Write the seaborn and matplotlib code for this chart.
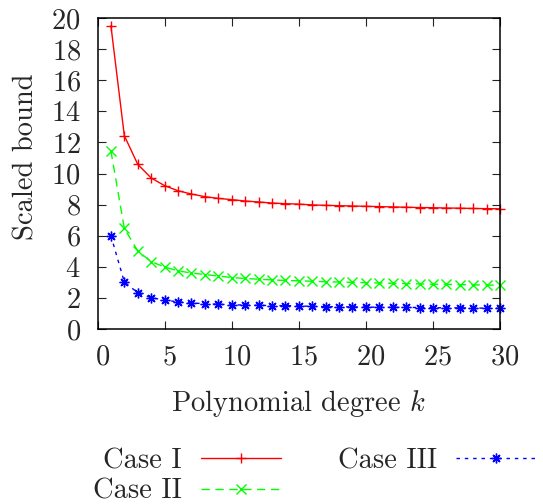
import matplotlib
matplotlib.use("Agg")
import matplotlib.pyplot as plt
from matplotlib.lines import Line2D
from matplotlib.transforms import ScaledTranslation
import pandas as pd
import seaborn as sns

# Polynomial degree and the scaled bound for each case
degree = list(range(1, 31))
case_1 = [19.50, 12.43, 10.59, 9.71, 9.22, 8.89, 8.68, 8.51, 8.40, 8.32,
          8.23, 8.17, 8.10, 8.06, 8.03, 7.98, 7.95, 7.93, 7.91, 7.89,
          7.87, 7.85, 7.83, 7.81, 7.80, 7.78, 7.77, 7.75, 7.74, 7.73]
case_2 = [11.45, 6.47, 5.02, 4.33, 3.99, 3.74, 3.60, 3.50, 3.41, 3.31,
          3.25, 3.20, 3.16, 3.12, 3.10, 3.07, 3.04, 3.02, 3.00, 2.98,
          2.96, 2.94, 2.92, 2.90, 2.88, 2.87, 2.85, 2.84, 2.83, 2.81]
case_3 = [6.00, 3.02, 2.33, 2.02, 1.85, 1.75, 1.67, 1.63, 1.59, 1.56,
          1.54, 1.52, 1.51, 1.50, 1.49, 1.45, 1.44, 1.43, 1.42, 1.41,
          1.40, 1.39, 1.39, 1.38, 1.37, 1.36, 1.36, 1.35, 1.34, 1.33]
case_names = ["Case I", "Case II", "Case III"]
x_ticks = list(range(0, 31, 5))
y_ticks = list(range(0, 21, 2))

sns.set_style("ticks")
plt.rcParams.update({
    "font.family": "serif",
    "font.serif": ["cmr10"],
    "mathtext.fontset": "cm",
    "axes.formatter.use_mathtext": True,
    "axes.unicode_minus": False,
})

FS = 20.5
colors = {"Case I": "#ff0000", "Case II": "#00ff00", "Case III": "#0000ff"}
markers = {"Case I": "+", "Case II": "x", "Case III": (8, 2, 0)}
dashes = {"Case I": "", "Case II": (6, 4), "Case III": (2.5, 3.5)}
MS = 7

df = pd.DataFrame({
    "k": degree * 3,
    "bound": case_1 + case_2 + case_3,
    "case": [n for n in case_names for _ in degree],
})

fig = plt.figure(figsize=(5.43, 5.04), dpi=100)
ax = fig.add_axes([97.5 / 543, 1 - 329 / 504, (500 - 97.5) / 543, (329 - 18) / 504])

sns.lineplot(data=df, x="k", y="bound", hue="case", style="case",
             palette=colors, markers=markers, dashes=dashes,
             markersize=MS, linewidth=1.0, errorbar=None, legend=False,
             ax=ax)
for line in ax.lines:
    line.set_markeredgecolor(line.get_color())
    line.set_markerfacecolor(line.get_color())
    line.set_markeredgewidth(1.0)
    line.set_clip_on(False)

ax.set_xlim(0, 30)
ax.set_ylim(0, 20)
ax.set_xticks(x_ticks)
ax.set_yticks(y_ticks)
ax.set_xlabel("Polynomial degree $k$", fontsize=FS)
ax.set_ylabel("Scaled bound", fontsize=FS)
ax.xaxis.set_label_coords(0.5, -0.19)
ax.yaxis.set_label_coords(-0.143, 0.555)
ax.tick_params(direction="in", length=5.5, width=0.8, top=True, right=True,
               labelsize=FS, color="#222222")
ax.tick_params(axis="x", pad=11)
ax.tick_params(axis="y", pad=12)
for s in ax.spines.values():
    s.set_linewidth(1.1)
    s.set_color("black")

shift = ScaledTranslation(5 / 100, 0, fig.dpi_scale_trans)
for lab in ax.get_xticklabels():
    lab.set_transform(lab.get_transform() + shift)

handles = [Line2D([], [], color=colors[n], marker=markers[n],
                  linestyle="-" if n == "Case I" else (0, dashes[n]),
                  linewidth=1.0, markersize=MS, markeredgewidth=1.0,
                  markeredgecolor=colors[n])
           for n in case_names]
fig.legend(handles, case_names, ncol=2, markerfirst=False, frameon=False,
           loc="upper left", bbox_to_anchor=(93 / 543, 1 - 448 / 504),
           borderaxespad=0, borderpad=0, handlelength=2.8,
           handletextpad=0.67, columnspacing=2.0, labelspacing=0.15,
           fontsize=FS)

fig.savefig("out.png", dpi=100)
